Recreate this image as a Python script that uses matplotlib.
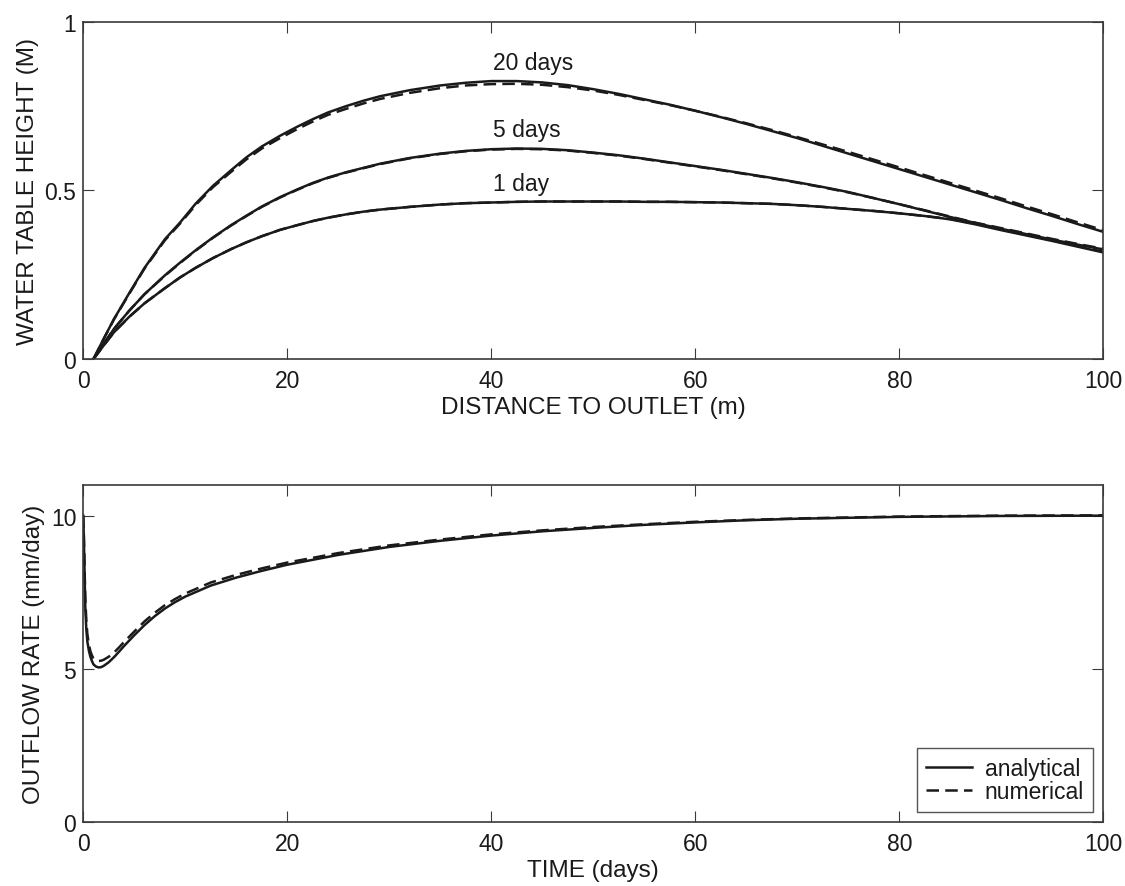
import matplotlib
matplotlib.use('Agg')
import matplotlib.pyplot as plt

plt.rcParams['font.family'] = ['Liberation Sans', 'DejaVu Sans']

# top panel: water table height vs distance to outlet
distance = [1, 2, 3, 4.5, 6, 8, 9.5, 11, 12.7, 14.5, 16, 17.5, 19.3, 21, 22.5, 24,
            25.8, 27.5, 29.1, 32, 35, 37.5, 40, 42.5, 45, 47.5, 50, 52.5, 55,
            57.5, 60, 62.5, 65, 67.5, 70, 72.5, 75, 77.5, 80, 82.5, 85, 87.5,
            90, 92.5, 95, 97.5, 100]
h20_analytical = [0, 0.06, 0.118, 0.195, 0.27, 0.355, 0.405, 0.46, 0.513, 0.56,
                  0.598, 0.63, 0.662, 0.689, 0.711, 0.731, 0.75, 0.766, 0.779,
                  0.797, 0.811, 0.819, 0.824, 0.824, 0.82, 0.812, 0.80, 0.786,
                  0.77, 0.754, 0.736, 0.717, 0.697, 0.676, 0.655, 0.632, 0.609,
                  0.586, 0.563, 0.54, 0.517, 0.494, 0.471, 0.447, 0.424, 0.40,
                  0.377]
h20_numerical = [0, 0.059, 0.117, 0.193, 0.268, 0.352, 0.402, 0.456, 0.509, 0.555,
                 0.592, 0.624, 0.655, 0.682, 0.704, 0.724, 0.742, 0.758, 0.771,
                 0.789, 0.803, 0.811, 0.815, 0.816, 0.813, 0.806, 0.796, 0.783,
                 0.768, 0.753, 0.736, 0.718, 0.699, 0.679, 0.658, 0.636, 0.614,
                 0.591, 0.568, 0.545, 0.522, 0.499, 0.476, 0.452, 0.429, 0.405,
                 0.382]
h5_analytical = [0, 0.045, 0.089, 0.143, 0.192, 0.248, 0.286, 0.322, 0.36, 0.397,
                 0.425, 0.452, 0.48, 0.503, 0.522, 0.538, 0.554, 0.567, 0.579,
                 0.596, 0.609, 0.617, 0.622, 0.624, 0.623, 0.619, 0.612, 0.604,
                 0.594, 0.583, 0.572, 0.561, 0.549, 0.537, 0.524, 0.51, 0.495,
                 0.477, 0.459, 0.44, 0.421, 0.403, 0.386, 0.37, 0.354, 0.339,
                 0.325]
h5_numerical = [0, 0.045, 0.089, 0.143, 0.192, 0.247, 0.285, 0.321, 0.359, 0.396,
                0.424, 0.451, 0.479, 0.502, 0.521, 0.537, 0.553, 0.566, 0.578,
                0.595, 0.608, 0.616, 0.621, 0.623, 0.622, 0.618, 0.611, 0.603,
                0.593, 0.582, 0.571, 0.56, 0.548, 0.536, 0.523, 0.509, 0.494,
                0.477, 0.459, 0.441, 0.422, 0.404, 0.388, 0.372, 0.356, 0.341,
                0.327]
h1_analytical = [0, 0.04, 0.079, 0.125, 0.165, 0.21, 0.242, 0.27, 0.299, 0.326,
                 0.346, 0.364, 0.383, 0.397, 0.409, 0.419, 0.429, 0.437, 0.443,
                 0.451, 0.458, 0.462, 0.464, 0.466, 0.467, 0.467, 0.467, 0.467,
                 0.466, 0.466, 0.465, 0.464, 0.462, 0.46, 0.456, 0.451, 0.445,
                 0.439, 0.432, 0.424, 0.414, 0.399, 0.382, 0.366, 0.35, 0.333,
                 0.316]
h1_numerical = [0, 0.04, 0.079, 0.125, 0.165, 0.21, 0.242, 0.27, 0.299, 0.326,
                0.346, 0.364, 0.383, 0.397, 0.409, 0.419, 0.429, 0.437, 0.443,
                0.451, 0.458, 0.462, 0.464, 0.466, 0.467, 0.467, 0.467, 0.467,
                0.466, 0.466, 0.465, 0.464, 0.462, 0.46, 0.456, 0.451, 0.445,
                0.439, 0.432, 0.424, 0.415, 0.401, 0.384, 0.368, 0.352, 0.335,
                0.318]
curve_labels = ['20 days', '5 days', '1 day']
label_x = [40.2, 40.2, 40.2]
label_y = [0.879, 0.681, 0.519]

# bottom panel: outflow rate vs time
time = [0, 0.05, 0.1, 0.15, 0.2, 0.3, 0.4, 0.55, 0.7, 0.85, 1.0, 1.25, 1.5, 1.75,
        2.0, 2.5, 3, 3.5, 4, 5, 6, 7, 8, 9, 10, 12.5, 15, 17.5, 20, 25, 30, 35,
        40, 45, 50, 55, 60, 65, 70, 75, 80, 90, 100]
q_analytical = [10.0, 9.4, 8.6, 7.8, 7.0, 6.3, 5.9, 5.6, 5.4, 5.26, 5.15, 5.08,
                5.05, 5.06, 5.1, 5.22, 5.38, 5.56, 5.75, 6.1, 6.43, 6.72, 6.97,
                7.18, 7.36, 7.72, 7.98, 8.2, 8.4, 8.72, 8.98, 9.18, 9.35, 9.49,
                9.6, 9.7, 9.78, 9.85, 9.9, 9.93, 9.96, 9.99, 10.0]
q_numerical = [10.0, 9.5, 8.8, 8.0, 7.3, 6.6, 6.15, 5.8, 5.58, 5.44, 5.35, 5.28,
               5.26, 5.27, 5.3, 5.4, 5.53, 5.7, 5.88, 6.22, 6.55, 6.83, 7.08,
               7.28, 7.46, 7.82, 8.07, 8.28, 8.47, 8.78, 9.03, 9.22, 9.39, 9.52,
               9.63, 9.72, 9.8, 9.86, 9.91, 9.94, 9.97, 10.0, 10.01]

ink = '#1a1a1a'
spine = '#3a3a3a'
label_fs = 17.5

fig = plt.figure(figsize=(11.25, 8.87), dpi=100)
ax1 = fig.add_axes([0.074, 0.5941, 0.9067, 0.3803])
ax2 = fig.add_axes([0.074, 0.0718, 0.9067, 0.3803])

dash = (5, 2.5)
for ana, num in [(h20_analytical, h20_numerical), (h5_analytical, h5_numerical),
                 (h1_analytical, h1_numerical)]:
    ax1.plot(distance, ana, color=ink, lw=1.8)
    ax1.plot(distance, num, color=ink, lw=1.8, dashes=dash)
for text, tx, ty in zip(curve_labels, label_x, label_y):
    ax1.text(tx, ty, text, fontsize=16.5, color=ink, ha='left', va='center')

ax2.plot(time, q_analytical, color=ink, lw=1.8, label='analytical')
ax2.plot(time, q_numerical, color=ink, lw=1.8, dashes=dash, label='numerical')

ax1.set_xlim(0, 100)
ax1.set_ylim(0, 1)
ax1.set_xticks([0, 20, 40, 60, 80, 100])
ax1.set_yticks([0, 0.5, 1])
ax1.set_yticklabels(['0', '0.5', '1'])
ax1.set_xlabel('DISTANCE TO OUTLET (m)', fontsize=label_fs, color=ink, labelpad=3)
ax1.set_ylabel('WATER TABLE HEIGHT (M)', fontsize=label_fs, color=ink, labelpad=4)

ax2.set_xlim(0, 100)
ax2.set_ylim(0, 11)
ax2.set_xticks([0, 20, 40, 60, 80, 100])
ax2.set_yticks([0, 5, 10])
ax2.set_xlabel('TIME (days)', fontsize=label_fs, color=ink, labelpad=3)
ax2.set_ylabel('OUTFLOW RATE (mm/day)', fontsize=label_fs, color=ink, labelpad=4)

for ax in (ax1, ax2):
    ax.tick_params(direction='in', length=8, width=0.8, top=True, right=True,
                   labelsize=16.5, colors=spine, labelcolor=ink)
    ax.tick_params(axis='x', pad=7)
    ax.tick_params(axis='y', pad=5)
    for s in ax.spines.values():
        s.set_color(spine)
        s.set_linewidth(1.2)

leg = ax2.legend(loc='lower right', fontsize=16.5, frameon=True, fancybox=False,
                 edgecolor='#555555', framealpha=1, handlelength=2.0,
                 borderaxespad=0.45, borderpad=0.4, labelspacing=0.0,
                 handletextpad=0.55)
leg.get_frame().set_linewidth(1.0)
for t in leg.get_texts():
    t.set_color(ink)

fig.savefig('out.png', dpi=100)
